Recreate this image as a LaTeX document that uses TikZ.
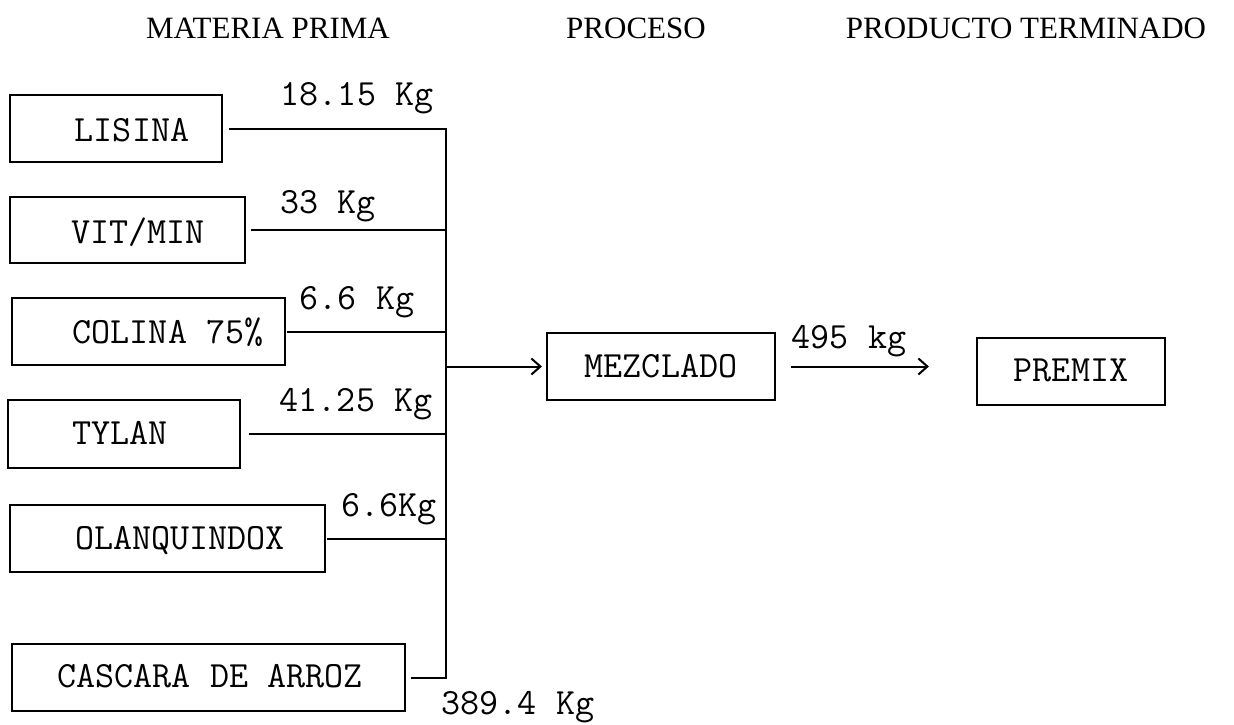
\documentclass[tikz,border=0pt]{standalone}
\usepackage{fontspec}
\newfontfamily\hdfont{Liberation Serif}
\usetikzlibrary{arrows.meta}
\begin{document}
\begin{tikzpicture}[x=1pt,y=-1pt,
  box/.style={draw, line width=2.2pt, inner sep=0pt},
  lbl/.style={font=\ttfamily\fontsize{37}{40}\selectfont, inner sep=0pt, anchor=base},
  hdr/.style={font=\hdfont\fontsize{31}{36}\selectfont, inner sep=0pt, anchor=base},
  wire/.style={line width=2pt},
  arr/.style={line width=2pt, -{Straight Barb[length=9pt,width=16pt,line width=2pt]}}]
\useasboundingbox[fill=white] (0,0) rectangle (1234,725);

% headers
\node[hdr] (h1) at (268,39) {MATERIA PRIMA};
\node[hdr] (h2) at (636,39) {PROCESO};
\node[hdr] (h3) at (1026,39) {PRODUCTO TERMINADO};

% input boxes
\node[box, minimum width=212pt, minimum height=67pt] (lisina) at (116,128.5) {};
\node[lbl] (lisinaT) at (132,141) {LISINA};
\node[box, minimum width=235pt, minimum height=66pt] (vitmin) at (127.5,230) {};
\node[lbl] (vitminT) at (138,243) {VIT/MIN};
\node[box, minimum width=273pt, minimum height=67pt] (colina) at (148.5,331.5) {};
\node[lbl] (colinaT) at (168,343) {COLINA 75\%};
\node[box, minimum width=232pt, minimum height=68pt] (tylan) at (124,434) {};
\node[lbl] (tylanT) at (120,444) {TYLAN};
\node[box, minimum width=315pt, minimum height=67pt] (olanq) at (167.5,538.5) {};
\node[lbl] (olanqT) at (180,549) {OLANQUINDOX};
\node[box, minimum width=393pt, minimum height=67pt] (cascara) at (208.5,677.5) {};
\node[lbl] (cascaraT) at (210,687) {CASCARA DE ARROZ};

% process and product
\node[box, minimum width=228pt, minimum height=67pt] (mezclado) at (661,366.5) {};
\node[lbl] (mezcladoT) at (661,377) {MEZCLADO};
\node[box, minimum width=188pt, minimum height=67pt] (premix) at (1071,371.5) {};
\node[lbl] (premixT) at (1071,381) {PREMIX};

% weights
\node[lbl] (w1) at (357,106) {18.15 Kg};
\node[lbl] (w2) at (328,213) {33 Kg};
\node[lbl] (w3) at (357,309) {6.6 Kg};
\node[lbl] (w4) at (356,411) {41.25 Kg};
\node[lbl] (w5) at (389,516) {6.6Kg};
\node[lbl] (w6) at (518,714) {389.4 Kg};
\node[lbl] (w7) at (849,348) {495 kg};

% bus
\coordinate (bx) at (446,0);
\draw[wire] ([xshift=6pt]lisina.east) -- (lisina.east -| bx) -- (cascara.east -| bx) -- ([xshift=5pt]cascara.east);
\draw[wire] ([xshift=5pt]vitmin.east) -- (vitmin.east -| bx);
\draw[wire] ([xshift=1pt]colina.east) -- (colina.east -| bx);
\draw[wire] ([xshift=8pt]tylan.east) -- (tylan.east -| bx);
\draw[wire] ([xshift=1pt]olanq.east) -- (olanq.east -| bx);

% arrows
\draw[arr] (mezclado.west -| bx) -- ([xshift=-4pt]mezclado.west);
\draw[arr] ([xshift=15pt]mezclado.east) -- ([xshift=-47pt]premix.west |- mezclado.east);
\end{tikzpicture}
\end{document}
